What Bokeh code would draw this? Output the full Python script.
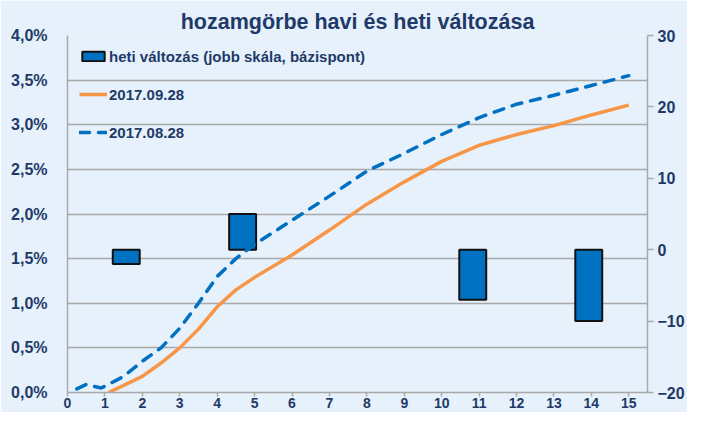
from bokeh.plotting import figure
from bokeh.models import (Range1d, LinearAxis, FixedTicker, Legend, LegendItem)
from bokeh.embed import file_html
from bokeh.resources import INLINE

# ---- data ----
title_text = "hozamgörbe havi és heti változása"

sep_x = [1.1, 1.5, 2, 2.5, 3, 3.5, 4, 4.5, 5, 6, 7, 8, 9, 10, 11, 12, 13, 14, 15]
sep_y = [0.0, 0.08, 0.18, 0.33, 0.50, 0.71, 0.96, 1.15, 1.29, 1.54, 1.82, 2.11,
         2.36, 2.59, 2.77, 2.89, 2.99, 3.11, 3.22]

aug_x = [0.25, 0.5, 0.9, 1, 1.5, 2, 2.5, 3, 3.5, 4, 4.5, 5, 6, 7, 8, 9, 10, 11,
         12, 13, 14, 15]
aug_y = [0.04, 0.09, 0.05, 0.07, 0.18, 0.35, 0.50, 0.72, 1.0, 1.30, 1.50, 1.66,
         1.93, 2.20, 2.48, 2.68, 2.89, 3.08, 3.23, 3.33, 3.44, 3.55]

bar_x = [1.57, 4.68, 10.83, 13.93]
bar_bp = [-2, 5, -7, -10]

left_ticks = [0, 0.5, 1.0, 1.5, 2.0, 2.5, 3.0, 3.5, 4.0]
left_labels = ["0,0%", "0,5%", "1,0%", "1,5%", "2,0%", "2,5%", "3,0%", "3,5%", "4,0%"]
right_ticks = [-20, -10, 0, 10, 20, 30]
x_ticks = list(range(0, 16))

label_bar = "heti változás (jobb skála, bázispont)"
label_sep = "2017.09.28"
label_aug = "2017.08.28"

# ---- style ----
BG = "#E6F1FB"
NAVY = "#1F3A68"
GRID = "#A9A9A9"
BLUE = "#0070C0"
ORANGE = "#F79646"
FONT = "Liberation Sans"

p = figure(width=687, height=412, output_backend="svg", toolbar_location=None,
           x_range=Range1d(0, 15.5), y_range=Range1d(0, 4),
           min_border_left=67, min_border_right=39, min_border_top=35,
           min_border_bottom=20)
p.background_fill_color = BG
p.border_fill_color = BG
p.outline_line_color = None

p.title.text = title_text
p.title.align = "center"
p.title.text_font = FONT
p.title.text_font_size = "21.5px"
p.title.text_font_style = "bold"
p.title.text_color = NAVY
p.title.standoff = 4
p.title.offset = 0

p.extra_y_ranges = {"bp": Range1d(-20, 30)}

# grids
p.xgrid.visible = False
p.ygrid.ticker = FixedTicker(ticks=left_ticks)
p.ygrid.grid_line_color = GRID
p.ygrid.grid_line_width = 1.5

# left axis
ya = p.yaxis[0]
ya.ticker = FixedTicker(ticks=left_ticks)
ya.major_label_overrides = {t: l for t, l in zip(left_ticks, left_labels)}
ya.major_tick_line_color = None
ya.minor_tick_line_color = None
ya.axis_line_color = GRID
ya.axis_line_width = 1.5
ya.major_label_standoff = 14
ya.major_label_text_font = FONT
ya.major_label_text_font_size = "16px"
ya.major_label_text_font_style = "bold"
ya.major_label_text_color = NAVY

# bottom axis
xa = p.xaxis[0]
xa.ticker = FixedTicker(ticks=x_ticks)
xa.axis_line_color = GRID
xa.axis_line_width = 1.5
xa.major_tick_line_color = GRID
xa.major_tick_line_width = 1.5
xa.major_tick_out = 4
xa.major_tick_in = 0
xa.minor_tick_line_color = None
xa.major_label_standoff = 1
xa.major_label_text_font = FONT
xa.major_label_text_font_size = "14px"
xa.major_label_text_font_style = "bold"
xa.major_label_text_color = NAVY

# right axis
ra = LinearAxis(y_range_name="bp", ticker=FixedTicker(ticks=right_ticks))
ra.axis_line_color = GRID
ra.axis_line_width = 1.5
ra.major_tick_line_color = GRID
ra.major_tick_line_width = 1.5
ra.major_tick_out = 6
ra.major_tick_in = 0
ra.minor_tick_line_color = None
ra.major_label_standoff = 4
ra.major_label_text_font = FONT
ra.major_label_text_font_size = "16px"
ra.major_label_text_font_style = "bold"
ra.major_label_text_color = NAVY
p.add_layout(ra, "right")

# glyphs
bars = p.vbar(x=bar_x, top=bar_bp, bottom=0, width=0.72, y_range_name="bp",
              fill_color=BLUE, line_color="#111111", line_width=2)
l_sep = p.line(sep_x, sep_y, line_color=ORANGE, line_width=3.5)
l_aug = p.line(aug_x, aug_y, line_color=BLUE, line_width=3.5, line_dash="10 9",
               line_cap="round")

legend = Legend(items=[
    LegendItem(label=label_bar, renderers=[bars]),
    LegendItem(label=label_sep, renderers=[l_sep]),
    LegendItem(label=label_aug, renderers=[l_aug]),
], location="top_left")
legend.background_fill_alpha = 0
legend.border_line_color = None
legend.margin = 12
legend.padding = 0
legend.spacing = 20
legend.glyph_width = 28
legend.glyph_height = 12
legend.label_height = 18
legend.label_standoff = 2
legend.label_text_font = FONT
legend.label_text_font_size = "15px"
legend.label_text_font_style = "bold"
legend.label_text_color = NAVY
p.add_layout(legend, "center")

open("out.html", "w").write(file_html(p, INLINE))
